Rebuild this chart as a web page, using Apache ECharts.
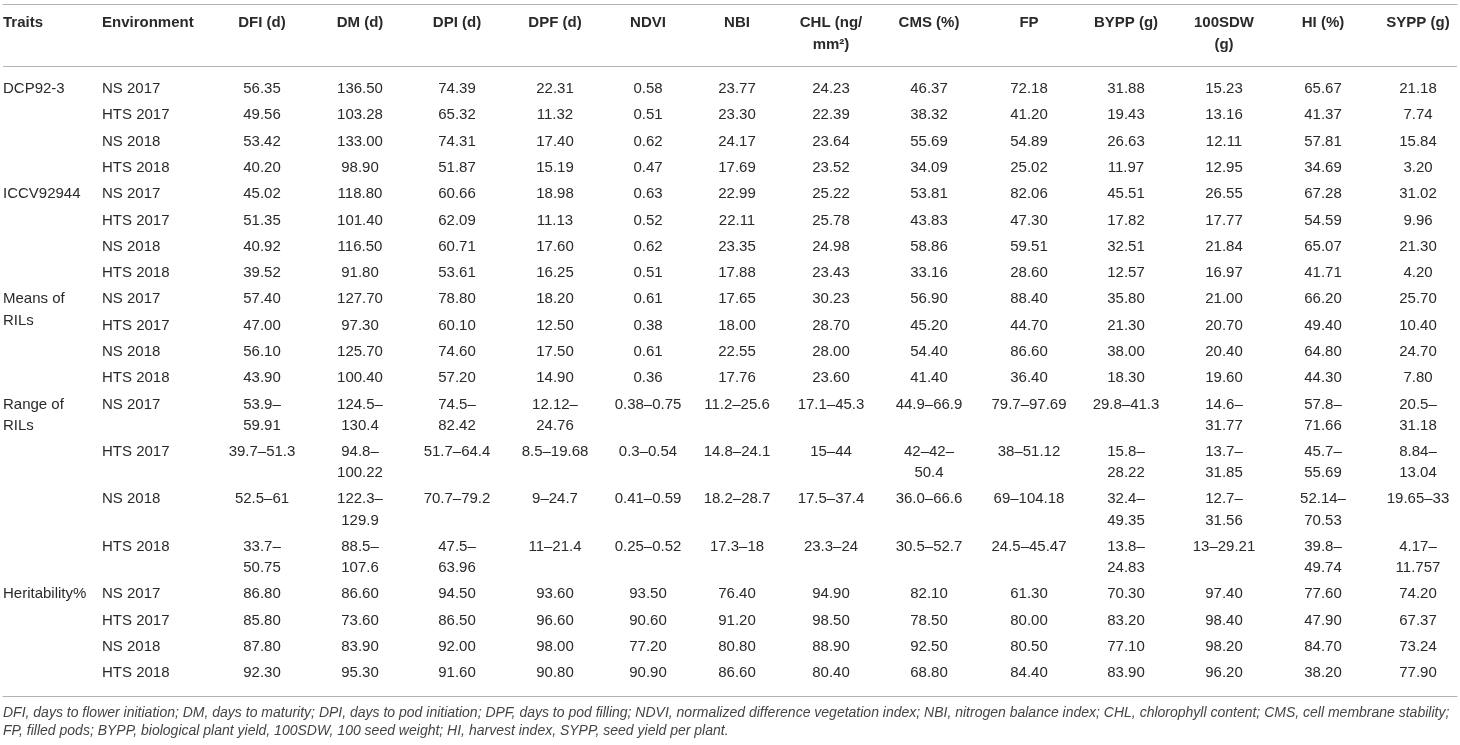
<!DOCTYPE html>
<html>
<head>
<meta charset="utf-8">
<script src="https://cdn.jsdelivr.net/npm/echarts@6/dist/echarts.min.js"></script>
<style>
  html, body { margin: 0; padding: 0; background: #fff; }
  #main { width: 1460px; height: 745px; }
</style>
</head>
<body>
<div id="main"></div>
<script>
// table content
var headers = ['Traits', 'Environment', 'DFI (d)', 'DM (d)', 'DPI (d)', 'DPF (d)', 'NDVI', 'NBI',
  'CHL (ng/mm²)', 'CMS (%)', 'FP', 'BYPP (g)', '100SDW (g)', 'HI (%)', 'SYPP (g)'];
var traits = ['DCP92-3', 'ICCV92944', 'Means of RILs', 'Range of RILs', 'Heritability%'];
var environments = ['NS 2017', 'HTS 2017', 'NS 2018', 'HTS 2018'];

var dfi = ['56.35', '49.56', '53.42', '40.20', '45.02', '51.35', '40.92', '39.52', '57.40', '47.00', '56.10', '43.90',
  '53.9–59.91', '39.7–51.3', '52.5–61', '33.7–50.75', '86.80', '85.80', '87.80', '92.30'];
var dm = ['136.50', '103.28', '133.00', '98.90', '118.80', '101.40', '116.50', '91.80', '127.70', '97.30', '125.70', '100.40',
  '124.5–130.4', '94.8–100.22', '122.3–129.9', '88.5–107.6', '86.60', '73.60', '83.90', '95.30'];
var dpi = ['74.39', '65.32', '74.31', '51.87', '60.66', '62.09', '60.71', '53.61', '78.80', '60.10', '74.60', '57.20',
  '74.5–82.42', '51.7–64.4', '70.7–79.2', '47.5–63.96', '94.50', '86.50', '92.00', '91.60'];
var dpf = ['22.31', '11.32', '17.40', '15.19', '18.98', '11.13', '17.60', '16.25', '18.20', '12.50', '17.50', '14.90',
  '12.12–24.76', '8.5–19.68', '9–24.7', '11–21.4', '93.60', '96.60', '98.00', '90.80'];
var ndvi = ['0.58', '0.51', '0.62', '0.47', '0.63', '0.52', '0.62', '0.51', '0.61', '0.38', '0.61', '0.36',
  '0.38–0.75', '0.3–0.54', '0.41–0.59', '0.25–0.52', '93.50', '90.60', '77.20', '90.90'];
var nbi = ['23.77', '23.30', '24.17', '17.69', '22.99', '22.11', '23.35', '17.88', '17.65', '18.00', '22.55', '17.76',
  '11.2–25.6', '14.8–24.1', '18.2–28.7', '17.3–18', '76.40', '91.20', '80.80', '86.60'];
var chl = ['24.23', '22.39', '23.64', '23.52', '25.22', '25.78', '24.98', '23.43', '30.23', '28.70', '28.00', '23.60',
  '17.1–45.3', '15–44', '17.5–37.4', '23.3–24', '94.90', '98.50', '88.90', '80.40'];
var cms = ['46.37', '38.32', '55.69', '34.09', '53.81', '43.83', '58.86', '33.16', '56.90', '45.20', '54.40', '41.40',
  '44.9–66.9', '42–42–50.4', '36.0–66.6', '30.5–52.7', '82.10', '78.50', '92.50', '68.80'];
var fp = ['72.18', '41.20', '54.89', '25.02', '82.06', '47.30', '59.51', '28.60', '88.40', '44.70', '86.60', '36.40',
  '79.7–97.69', '38–51.12', '69–104.18', '24.5–45.47', '61.30', '80.00', '80.50', '84.40'];
var bypp = ['31.88', '19.43', '26.63', '11.97', '45.51', '17.82', '32.51', '12.57', '35.80', '21.30', '38.00', '18.30',
  '29.8–41.3', '15.8–28.22', '32.4–49.35', '13.8–24.83', '70.30', '83.20', '77.10', '83.90'];
var sdw100 = ['15.23', '13.16', '12.11', '12.95', '26.55', '17.77', '21.84', '16.97', '21.00', '20.70', '20.40', '19.60',
  '14.6–31.77', '13.7–31.85', '12.7–31.56', '13–29.21', '97.40', '98.40', '98.20', '96.20'];
var hi = ['65.67', '41.37', '57.81', '34.69', '67.28', '54.59', '65.07', '41.71', '66.20', '49.40', '64.80', '44.30',
  '57.8–71.66', '45.7–55.69', '52.14–70.53', '39.8–49.74', '77.60', '47.90', '84.70', '38.20'];
var sypp = ['21.18', '7.74', '15.84', '3.20', '31.02', '9.96', '21.30', '4.20', '25.70', '10.40', '24.70', '7.80',
  '20.5–31.18', '8.84–13.04', '19.65–33', '4.17–11.757', '74.20', '67.37', '73.24', '77.90'];

var footnote = [
  'DFI, days to flower initiation; DM, days to maturity; DPI, days to pod initiation; DPF, days to pod filling; NDVI, normalized difference vegetation index; NBI, nitrogen balance index; CHL, chlorophyll content; CMS, cell membrane stability;',
  'FP, filled pods; BYPP, biological plant yield, 100SDW, 100 seed weight; HI, harvest index, SYPP, seed yield per plant.'
];

// layout (px units of the grid)
var colWidths = [99, 110, 100, 96, 98, 98, 88, 90, 98, 98, 102, 92, 104, 94, 96];
var wrapWidths = [90, 100, 70, 70, 70, 70, 70, 70, 70, 70, 80, 70, 70, 70, 70];
var headTextTop = 8.5, headLineH = 21.7, headerH = 62;
var bodyPadTop = 9.8, lineH = 21.1, rowPad = 5.2;
var FONT = 'Liberation Sans', TEXT = '#2a2a2a', RULE = '#b3b3b3';

var columns = [dfi, dm, dpi, dpf, ndvi, nbi, chl, cms, fp, bypp, sdw100, hi, sypp];

var ctx = document.createElement('canvas').getContext('2d');
function wrap(text, maxW, weight) {
  ctx.font = weight + ' 15px "' + FONT + '"';
  var parts = text.match(/[^ –\/]+[ –\/]?|[ –\/]/g), lines = [], cur = '';
  parts.forEach(function (p) {
    var t = cur + p;
    if (cur && ctx.measureText(t.trim()).width > maxW) {
      lines.push(cur.trim());
      cur = p;
    } else cur = t;
  });
  lines.push(cur.trim());
  return lines;
}

var colLeft = [], acc = 0;
colWidths.forEach(function (w) { colLeft.push(acc); acc += w; });
function cellX(c) { return c < 2 ? colLeft[c] : colLeft[c] + colWidths[c] / 2; }

var cells = [];
headers.forEach(function (h, c) {
  cells.push({ x: cellX(c), y: headTextTop, lines: wrap(h, wrapWidths[c], 'bold'), bold: true, c: c });
});

var rowTop = headerH + bodyPadTop;
for (var r = 0; r < 20; r++) {
  var rowCells = [];
  if (r % 4 === 0) rowCells.push({ c: 0, lines: wrap(traits[r / 4], wrapWidths[0], 'normal') });
  rowCells.push({ c: 1, lines: wrap(environments[r % 4], wrapWidths[1], 'normal') });
  columns.forEach(function (col, k) {
    rowCells.push({ c: k + 2, lines: wrap(col[r], wrapWidths[k + 2], 'normal') });
  });
  var n = 1;
  rowCells.forEach(function (rc) {
    if (rc.c > 0) n = Math.max(n, rc.lines.length);
    rc.x = cellX(rc.c);
    rc.y = rowTop + rowPad / 2;
    cells.push(rc);
  });
  rowTop += n * lineH + rowPad;
}

var chart = echarts.init(document.getElementById('main'));
chart.setOption({
  animation: false,
  title: {
    text: footnote.join('\n'),
    left: 3,
    top: 704,
    padding: 0,
    textStyle: { fontFamily: FONT, fontSize: 14, fontStyle: 'italic', fontWeight: 'normal', color: '#444', lineHeight: 18 }
  },
  grid: { left: 3, right: 3, top: 4, bottom: 49 },
  xAxis: [{
    type: 'value', position: 'top', min: 0, max: 1454,
    axisLine: { show: true, onZero: false, lineStyle: { color: RULE, width: 1.2 } },
    axisTick: { show: false }, axisLabel: { show: false }, splitLine: { show: false }
  }, {
    type: 'value', position: 'bottom', min: 0, max: 1454,
    axisLine: { show: true, onZero: false, lineStyle: { color: RULE, width: 1.2 } },
    axisTick: { show: false }, axisLabel: { show: false }, splitLine: { show: false }
  }],
  yAxis: { type: 'value', inverse: true, min: 0, max: 692, show: false },
  series: [{
    type: 'custom',
    silent: true,
    data: cells.map(function (d) { return [d.x, d.y]; }),
    renderItem: function (params, api) {
      var d = cells[params.dataIndex];
      var p = api.coord([api.value(0), api.value(1)]);
      return {
        type: 'text',
        x: p[0], y: p[1],
        style: {
          text: d.lines.join('\n'),
          fill: TEXT,
          fontFamily: FONT,
          fontSize: 15,
          fontWeight: d.bold ? 'bold' : 'normal',
          align: d.c < 2 ? 'left' : 'center',
          verticalAlign: 'top',
          lineHeight: d.bold ? headLineH : lineH
        }
      };
    },
    markLine: {
      silent: true, symbol: 'none', label: { show: false },
      lineStyle: { color: RULE, width: 1.2, type: 'solid' },
      data: [{ yAxis: headerH }]
    }
  }]
});
</script>
</body>
</html>
